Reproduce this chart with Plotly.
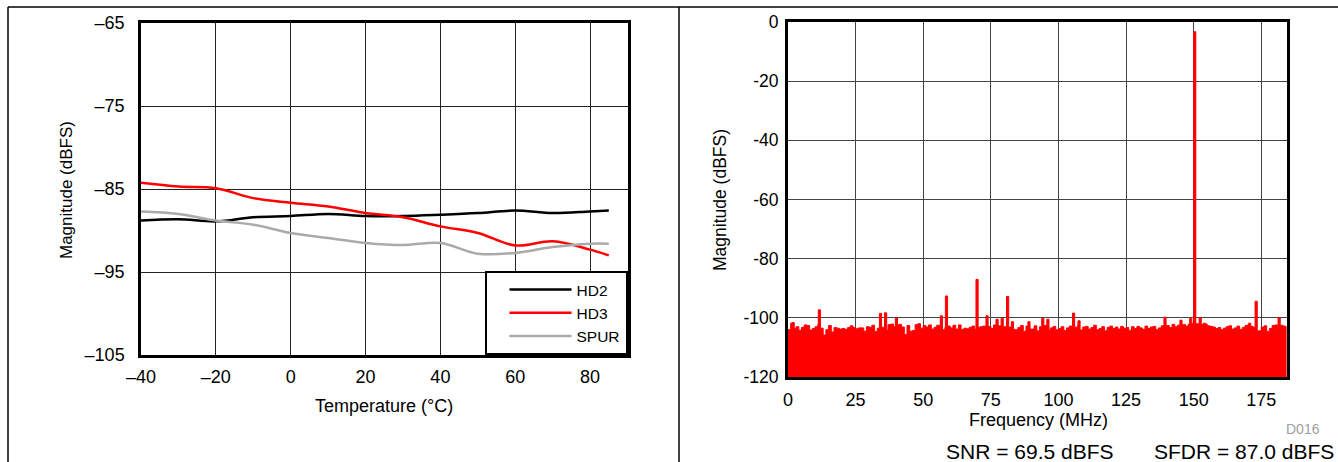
import plotly.graph_objects as go

W, H = 1338, 462

# ---------------- Left chart data (harmonics vs temperature) ----------------
temp_c = [-40, -30, -20, -10, 0, 10, 20, 30, 40, 50, 60, 70, 80, 85]
hd2_db = [-88.8, -88.65, -88.9, -88.4, -88.25, -88.0, -88.25, -88.25, -88.1, -87.9, -87.6, -87.9, -87.7, -87.6]
hd3_db = [-84.25, -84.7, -84.9, -86.1, -86.65, -87.1, -87.9, -88.4, -89.5, -90.3, -91.8, -91.3, -92.3, -93.0]
spur_t_db = [-87.7, -88.0, -88.8, -89.3, -90.3, -90.9, -91.5, -91.75, -91.5, -92.8, -92.7, -92.0, -91.6, -91.6]
left_xticks = [-40, -20, 0, 20, 40, 60, 80]
left_xtext = ["\u201340", "\u201320", "0", "20", "40", "60", "80"]
left_yticks = [-105, -95, -85, -75, -65]
left_ytext = ["\u2013105", "\u201395", "\u201385", "\u201375", "\u201365"]

# ---------------- Right chart data (FFT spectrum) ----------------
nyquist_mhz = 184.32
noise_db = [
    -104.0, -101.8, -103.5, -103.0, -104.2, -103.2, -102.4, -102.6, -104.1, -103.6,
    -103.0, -102.2, -103.5, -105.8, -104.0, -102.6, -104.8, -103.3, -103.5, -103.8,
    -103.6, -103.9, -103.3, -102.7, -103.3, -103.7, -103.4, -103.4, -104.5, -103.0,
    -103.2, -102.5, -104.6, -103.5, -102.8, -103.2, -104.1, -102.3, -102.1, -103.0,
    -102.4, -102.2, -103.1, -105.6, -102.6, -104.5, -104.3, -102.3, -102.0, -103.5,
    -102.6, -103.1, -102.4, -103.8, -103.2, -102.5, -103.9, -104.0, -103.3, -102.8,
    -103.4, -102.5, -103.8, -102.4, -104.0, -103.5, -103.7, -103.2, -102.8, -103.9,
    -103.2, -103.0, -102.8, -104.5, -102.9, -103.6, -102.4, -104.1, -102.7, -103.3,
    -103.0, -104.2, -103.1, -103.9, -104.0, -103.3, -102.6, -104.5, -102.8, -103.2,
    -103.8, -102.7, -104.4, -103.0, -103.5, -102.6, -104.2, -103.4, -102.9, -104.0,
    -103.6, -103.0, -104.3, -103.4, -102.8, -103.7, -103.2, -102.6, -104.1, -103.1,
    -102.9, -103.8, -103.3, -102.5, -104.0, -103.6, -103.0, -104.4, -103.2, -102.8,
    -103.6, -103.1, -103.8, -102.9, -103.5, -103.3, -104.2, -103.0, -103.6, -102.9,
    -103.4, -103.9, -102.8, -103.6, -103.1, -102.9, -104.0, -103.4, -102.7, -103.5,
    -102.6, -103.3, -102.2, -103.0, -102.5, -103.2, -102.3, -102.8, -102.1, -101.8,
    -101.5, -102.0, -101.6, -102.3, -102.1, -102.7, -102.9, -103.1, -103.6, -103.3,
    -104.0, -103.5, -103.0, -102.7, -103.8, -103.4, -102.8, -103.9, -103.2, -102.6,
    -102.3, -102.9, -103.2, -103.8, -104.4, -103.1, -102.7, -104.6, -103.6, -102.6,
    -102.4, -103.5, -102.5, -102.8, -103.0,
]
noise_freq = list(range(len(noise_db)))  # 1 MHz bins
spur_freq = [1.5, 11.2, 33.8, 35.7, 39.7, 56.3, 58.2, 69.5, 73.2, 76.9, 78.8, 80.8, 82.6,
             88.7, 93.8, 95.7, 105.2, 107.2, 139.0, 144.9, 148.5, 150.0, 152.0, 153.5,
             170.3, 172.7, 181.2]
spur_db = [-101.6, -97.3, -98.5, -98.3, -100.0, -99.3, -92.6, -87.0, -99.3, -100.5, -100.1, -92.8, -101.3,
           -101.3, -100.2, -100.5, -98.4, -101.0, -99.8, -100.8, -100.2, -3.3, -100.0, -101.8,
           -101.8, -94.4, -100.0]
right_xticks = [0, 25, 50, 75, 100, 125, 150, 175]
right_yticks = [-120, -100, -80, -60, -40, -20, 0]
right_ytext = ["-120", "-100", "-80", "-60", "-40", "-20", "0"]
floor_db = -120

# Merge noise floor bins and spur lines into one stepped trace
spur_w = 0.8
pts = []
for f, v in zip(noise_freq, noise_db):
    if any(sf < f < sf + spur_w for sf in spur_freq):
        continue
    pts.append((f, v))
for sf, sv in zip(spur_freq, spur_db):
    pts.append((sf, sv))
    end = sf + spur_w
    pts.append((end, noise_db[min(int(round(end)), len(noise_db) - 1)]))
pts.sort(key=lambda p: p[0])
spec_x = [p[0] for p in pts] + [nyquist_mhz, nyquist_mhz, 0]
spec_y = [p[1] for p in pts] + [pts[-1][1], floor_db, floor_db]

FONT = "Liberation Sans, Arial, Helvetica, sans-serif"

fig = go.Figure()
fig.add_trace(go.Scatter(x=temp_c, y=hd2_db, name="HD2", mode="lines", line=dict(color="#000000", width=2.5, shape="spline"), xaxis="x", yaxis="y"))
fig.add_trace(go.Scatter(x=temp_c, y=hd3_db, name="HD3", mode="lines", line=dict(color="#ff0000", width=2.5, shape="spline"), xaxis="x", yaxis="y"))
fig.add_trace(go.Scatter(x=temp_c, y=spur_t_db, name="SPUR", mode="lines", line=dict(color="#aaaaaa", width=2.5, shape="spline"), xaxis="x", yaxis="y"))
fig.add_trace(go.Scatter(x=spec_x, y=spec_y, mode="lines", fill="toself", fillcolor="#ff0000",
                         line=dict(color="#ff0000", width=1, shape="hv"), showlegend=False,
                         xaxis="x2", yaxis="y2"))

def px(x):
    return x / W

def py(y):
    return 1 - y / H

axis_common = dict(showline=True, mirror=True, linecolor="#000000", zeroline=False,
                   showgrid=True, ticks="", color="#000000", automargin=False)

fig.update_layout(
    width=W, height=H, autosize=False,
    margin=dict(l=0, r=0, t=0, b=0, pad=0, autoexpand=False),
    paper_bgcolor="white", plot_bgcolor="white",
    font=dict(family=FONT, color="#000000", size=18),
    xaxis=dict(axis_common, domain=[px(141), px(627.5)], range=[-40, 90], anchor="y",
               tickvals=left_xticks, ticktext=left_xtext, tickfont=dict(size=18),
               linewidth=2.5, gridcolor="#222222", gridwidth=1, ticklabelstandoff=4),
    yaxis=dict(axis_common, domain=[py(355), py(23)], range=[-105, -65], anchor="x",
               tickvals=left_yticks, ticktext=left_ytext, tickfont=dict(size=18),
               linewidth=2.5, gridcolor="#222222", gridwidth=1, ticklabelstandoff=10),
    xaxis2=dict(axis_common, domain=[px(788), px(1286.5)], range=[0, nyquist_mhz], anchor="y2",
                tickvals=right_xticks, tickfont=dict(size=18),
                linewidth=3, gridcolor="#444444", gridwidth=1, ticklabelstandoff=4),
    yaxis2=dict(axis_common, domain=[py(377), py(22)], range=[-120, 0], anchor="x2",
                tickvals=right_yticks, ticktext=right_ytext, tickfont=dict(size=17.5),
                linewidth=3, gridcolor="#444444", gridwidth=1, ticklabelstandoff=3),
    legend=dict(x=px(627.5), y=py(355), xanchor="right", yanchor="bottom",
                bordercolor="#000000", borderwidth=2, bgcolor="white",
                font=dict(size=15.5, family=FONT), itemwidth=62, indentation=18,
                tracegroupgap=0),
    shapes=[
        dict(type="line", xref="paper", yref="paper", x0=px(8), x1=1, y0=py(7), y1=py(7), line=dict(color="black", width=1.5)),
        dict(type="line", xref="paper", yref="paper", x0=px(8), x1=px(8), y0=py(7), y1=0, line=dict(color="black", width=1.5)),
        dict(type="line", xref="paper", yref="paper", x0=px(679), x1=px(679), y0=py(7), y1=0, line=dict(color="black", width=1.5)),
    ],
    annotations=[
        dict(text="Magnitude (dBFS)", xref="paper", yref="paper", x=px(67), y=py(190), textangle=-90,
             showarrow=False, font=dict(size=17), xanchor="center", yanchor="middle"),
        dict(text="Temperature (\u00b0C)", xref="paper", yref="paper", x=px(384), y=py(406),
             showarrow=False, font=dict(size=18), xanchor="center", yanchor="middle"),
        dict(text="Magnitude (dBFS)", xref="paper", yref="paper", x=px(720), y=py(200), textangle=-90,
             showarrow=False, font=dict(size=17.5), xanchor="center", yanchor="middle"),
        dict(text="Frequency (MHz)", xref="paper", yref="paper", x=px(1038), y=py(420),
             showarrow=False, font=dict(size=18), xanchor="center", yanchor="middle"),
        dict(text="D016", xref="paper", yref="paper", x=px(1303), y=py(429),
             showarrow=False, font=dict(size=14, color="#a0a0a0"), xanchor="center", yanchor="middle"),
        dict(text="SNR = 69.5 dBFS", xref="paper", yref="paper", x=px(944), y=py(451),
             showarrow=False, font=dict(size=21), xanchor="left", yanchor="middle"),
        dict(text="SFDR = 87.0 dBFS", xref="paper", yref="paper", x=px(1336), y=py(451),
             showarrow=False, font=dict(size=21), xanchor="right", yanchor="middle"),
    ],
)

fig.write_html("out.html", config={"displayModeBar": False},
               post_script="document.body.style.margin='0';document.body.style.padding='0';")
